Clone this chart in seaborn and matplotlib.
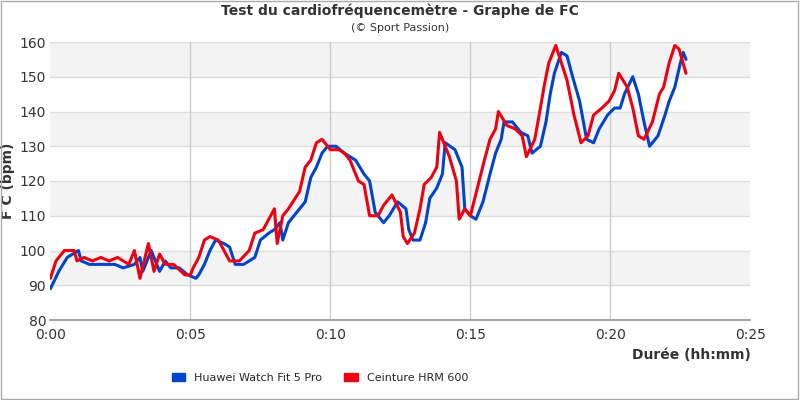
import matplotlib
matplotlib.use("Agg")
import matplotlib.pyplot as plt
import seaborn as sns
import pandas as pd
from matplotlib.patches import Patch

red_t = [0,0.2,0.5,0.85,0.95,1.2,1.5,1.8,2.1,2.4,2.8,3.0,3.2,3.5,3.7,3.9,4.1,4.4,4.8,5.0,5.1,5.3,5.5,5.7,6.0,6.2,6.4,6.75,7.1,7.3,7.6,7.8,8.0,8.1,8.3,8.5,8.9,9.1,9.3,9.5,9.7,10.0,10.3,10.5,10.7,11.0,11.2,11.4,11.7,11.9,12.2,12.5,12.6,12.75,13.0,13.2,13.35,13.6,13.8,13.9,14.25,14.5,14.6,14.8,15.0,15.25,15.5,15.7,15.9,16.0,16.3,16.6,16.85,17.0,17.3,17.5,17.65,17.8,18.05,18.25,18.45,18.7,18.95,19.2,19.4,19.7,19.95,20.15,20.3,20.6,20.8,21.0,21.2,21.5,21.75,21.9,22.1,22.3,22.45,22.7]
red_v = [92,97,100,100,97,98,97,98,97,98,96,100,92,102,94,99,96,96,93,93,95,98,103,104,103,100,97,97,100,105,106,109,112,102,110,112,117,124,126,131,132,129,129,128,126,120,119,110,110,113,116,111,104,102,105,112,119,121,124,134,127,120,109,112,110,118,126,132,135,140,136,135,133,127,132,141,148,154,159,154,149,139,131,133,139,141,143,146,151,147,141,133,132,137,145,147,154,159,158,151]

blue_t = [0,0.3,0.6,1.0,1.1,1.4,1.7,2.0,2.3,2.6,3.0,3.2,3.3,3.6,3.9,4.1,4.3,4.6,4.9,5.2,5.3,5.5,5.7,5.9,6.2,6.4,6.6,6.9,7.3,7.5,7.8,8.0,8.2,8.3,8.5,8.7,9.1,9.3,9.5,9.7,9.9,10.2,10.5,10.7,10.9,11.2,11.4,11.6,11.9,12.1,12.4,12.7,12.8,12.95,13.2,13.4,13.55,13.8,14.0,14.1,14.45,14.7,14.8,15.0,15.2,15.45,15.7,15.9,16.1,16.2,16.5,16.8,17.05,17.2,17.5,17.7,17.85,18.0,18.25,18.45,18.65,18.9,19.15,19.4,19.6,19.9,20.15,20.35,20.5,20.8,21.0,21.2,21.4,21.7,21.95,22.1,22.3,22.5,22.6,22.7]
blue_v = [89,94,98,100,97,96,96,96,96,95,96,98,94,100,94,97,95,95,93,92,93,96,100,103,102,101,96,96,98,103,105,106,108,103,108,110,114,121,124,128,130,130,128,127,126,122,120,111,108,110,114,112,106,103,103,108,115,118,122,131,129,124,112,110,109,114,122,128,132,137,137,134,133,128,130,137,145,151,157,156,150,143,132,131,135,139,141,141,145,150,145,137,130,133,139,143,147,154,157,155]

blue_c = "#0044cc"
red_c = "#ee0011"

sns.set_theme(style="white")
plt.rcParams['font.family'] = ['DejaVu Sans']
fig, ax = plt.subplots(figsize=(8, 4), dpi=100)
fig.subplots_adjust(left=0.063, right=0.938, top=0.895, bottom=0.2)

for lo in range(90, 160, 20):
    ax.axhspan(lo, lo + 10, color="#f3f3f3", zorder=0, lw=0)
for yv in range(80, 161, 10):
    ax.axhline(yv, color="#dddddd", lw=1, zorder=0.5)
for xv in range(5, 25, 5):
    ax.axvline(xv, color="#cccccc", lw=1, zorder=0.5)

dfb = pd.DataFrame({"t": blue_t, "v": blue_v})
dfr = pd.DataFrame({"t": red_t, "v": red_v})
sns.lineplot(data=dfb, x="t", y="v", ax=ax, color=blue_c, lw=2.2, zorder=3)
sns.lineplot(data=dfr, x="t", y="v", ax=ax, color=red_c, lw=2.2, zorder=4)

ax.set_xlim(0, 25)
ax.set_ylim(80, 160)
ax.set_xticks(range(0, 26, 5))
ax.set_xticklabels(["0:00", "0:05", "0:10", "0:15", "0:20", "0:25"])
ax.set_yticks(range(80, 161, 10))
ax.tick_params(axis="x", labelsize=10, colors="#333333", length=0, pad=6)
ax.tick_params(axis="y", labelsize=10, colors="#333333", length=0, pad=3)
for s in ax.spines.values():
    s.set_visible(False)
ax.spines["bottom"].set_visible(True)
ax.spines["bottom"].set_color("#999999")
ax.set_xlabel("Durée (hh:mm)", fontsize=10, fontweight="bold", color="#333333", loc="right")
ax.set_ylabel("F C (bpm)", fontsize=10, fontweight="bold", color="#333333")
ax.yaxis.set_label_coords(-0.05, 0.5)
fig.text(0.5, 0.972, "Test du cardiofréquencemètre - Graphe de FC", ha="center", va="center",
         fontsize=10, fontweight="bold", color="#333333")
fig.text(0.5, 0.93, "(© Sport Passion)", ha="center", va="center", fontsize=8, color="#333333")

handles = [Patch(color=blue_c, label="Huawei Watch Fit 5 Pro"), Patch(color=red_c, label="Ceinture HRM 600")]
fig.legend(handles=handles, loc="center", bbox_to_anchor=(0.4, 0.055), ncol=2, frameon=False,
           fontsize=8, handlelength=1.2, handleheight=0.8, columnspacing=2)
fig.patches.append(plt.Rectangle((0.001, 0.002), 0.997, 0.996, transform=fig.transFigure,
                                 fill=False, edgecolor="#aaaaaa", lw=1))
fig.savefig("out.png", dpi=100)
